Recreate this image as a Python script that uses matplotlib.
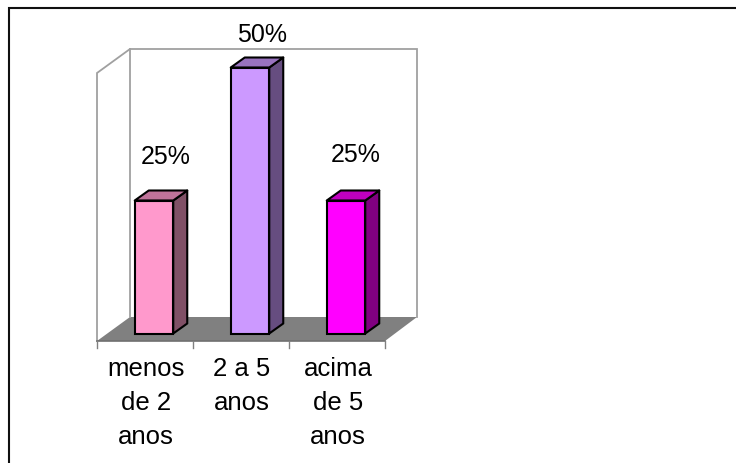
import matplotlib
matplotlib.use("Agg")
import matplotlib.pyplot as plt
from matplotlib.patches import Polygon

categories = ["menos\nde 2\nanos", "2 a 5\nanos", "acima\nde 5\nanos"]
values = [25, 50, 25]
labels = ["25%", "50%", "25%"]
front_colors = ["#FF99CC", "#CC99FF", "#FF00FF"]
top_colors = ["#C0739A", "#9973BF", "#BF00BF"]
side_colors = ["#805066", "#664D80", "#800080"]
label_offsets = [(12, 37), (12, 25), (10, 39)]

plt.rcParams["font.family"] = ["Liberation Sans", "DejaVu Sans"]
W, H = 736, 463
fig = plt.figure(figsize=(W / 100, H / 100), dpi=100)
ax = fig.add_axes([0, 0, 1, 1])
ppu_x, ppu_y = 96.0, 266 / 50
x0_px, y0_px = 250.0, 333.5
ax.set_xlim((0 - x0_px) / ppu_x, (W - x0_px) / ppu_x)
ax.set_ylim((y0_px - H) / ppu_y, y0_px / ppu_y)
ax.axis("off")


def px(x, y):
    """Pixel position (from top-left) to data coordinates."""
    return ((x - x0_px) / ppu_x, (y0_px - y) / ppu_y)


# outer frame: only the top and left edges fall inside the picture
ax.plot(*zip(*[px(9, 463), px(9, 7.5), px(736, 7.5)]), color="#101010", lw=1.5,
        zorder=0, solid_joinstyle="miter", solid_capstyle="butt")

# floor, walls, ticks
ax.add_patch(Polygon([px(97, 341), px(130, 317), px(417, 317), px(385, 341)],
                     closed=True, fc="#808080", ec="none", zorder=1))
wall = "#A0A0A0"
for pts in ([(97, 341), (97, 73), (130, 49), (417, 49), (417, 317)], [(130, 49), (130, 317)]):
    ax.plot(*zip(*[px(*p) for p in pts]), color=wall, lw=1.3, zorder=1, solid_joinstyle="miter")
ax.plot(*zip(*[px(97, 341), px(385, 341)]), color="#707070", lw=1.2, zorder=2)
for t in (97, 192.7, 288.7, 385):
    ax.plot(*zip(*[px(t, 341), px(t, 348)]), color="#808080", lw=1, zorder=2)

# bars
bw = 38.5 / ppu_x
dx, dy = 14 / ppu_x, 10 / ppu_y
pos = [p - 1 for p in range(len(values))]
for p, v, fc, tc, sc in zip(pos, values, front_colors, top_colors, side_colors):
    l, r = p - bw / 2, p + bw / 2
    kw = dict(closed=True, ec="black", lw=1.5, zorder=3, joinstyle="round")
    ax.add_patch(Polygon([(r, 0), (r + dx, dy), (r + dx, v + dy), (r, v)], fc=sc, **kw))
    ax.add_patch(Polygon([(l, v), (l + dx, v + dy), (r + dx, v + dy), (r, v)], fc=tc, **kw))
    ax.bar(p, v, width=bw, color=fc, edgecolor="black", linewidth=1.5, zorder=4)

# value labels
for p, v, lab, off in zip(pos, values, labels, label_offsets):
    ax.annotate(lab, (p, v), xytext=off, textcoords="offset pixels", ha="center",
                va="baseline", fontsize=18, color="black", zorder=5)

# category labels
for p, c in zip(pos, categories):
    _, ty = px(0, 357.5)
    ax.text(p - 8 / ppu_x, ty, c, ha="center", va="top", fontsize=18.5, color="black",
            linespacing=1.5, zorder=5)

fig.savefig("out.png", dpi=100)
